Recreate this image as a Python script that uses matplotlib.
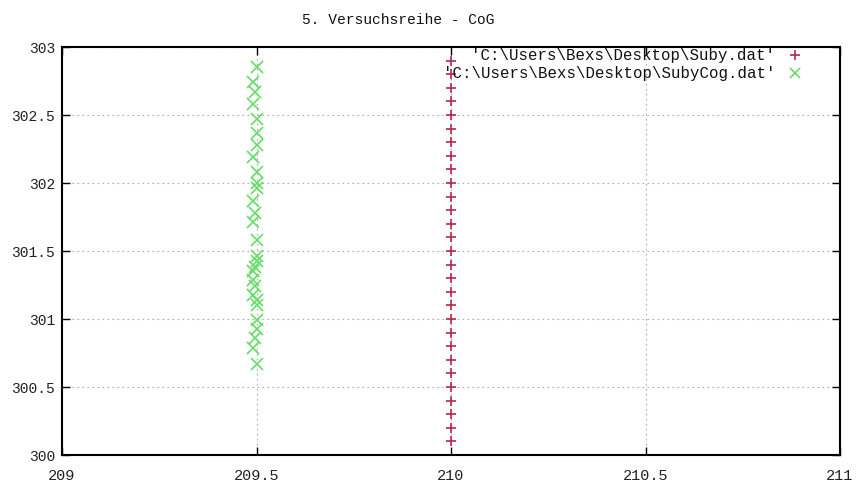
"""
5. Versuchsreihe - CoG : Suby vs SubyCog
"""

import matplotlib as mpl
mpl.use("Agg")
import matplotlib.pyplot as plt

# raw points (x, y)
suby_x = [210.0] * 29
suby_y = [300.1, 300.2, 300.3, 300.4, 300.5, 300.6, 300.7, 300.8, 300.9, 301.0,
          301.1, 301.2, 301.3, 301.4, 301.5, 301.6, 301.7, 301.8, 301.9, 302.0,
          302.1, 302.2, 302.3, 302.4, 302.5, 302.6, 302.7, 302.8, 302.9]

cog_x = [209.50, 209.49, 209.495, 209.49, 209.50, 209.50, 209.50, 209.49, 209.50, 209.50,
         209.50, 209.49, 209.495, 209.49, 209.50, 209.50, 209.50, 209.495, 209.49, 209.49,
         209.495, 209.49, 209.50, 209.50, 209.50, 209.50, 209.495, 209.49, 209.50]
cog_y = [302.85, 302.74, 302.67, 302.58, 302.47, 302.37, 302.28, 302.19, 302.08, 302.00,
         301.96, 301.87, 301.78, 301.71, 301.58, 301.46, 301.43, 301.38, 301.35, 301.29,
         301.24, 301.18, 301.14, 301.10, 300.99, 300.93, 300.86, 300.79, 300.67]

labels = ["'C:\\Users\\Bexs\\Desktop\\Suby.dat'", "'C:\\Users\\Bexs\\Desktop\\SubyCog.dat'"]
title = "5. Versuchsreihe - CoG"

xticks = [209, 209.5, 210, 210.5, 211]
xtick_labels = ["209", "209.5", "210", "210.5", "211"]
yticks = [300, 300.5, 301, 301.5, 302, 302.5, 303]
ytick_labels = ["300", "300.5", "301", "301.5", "302", "302.5", "303"]

red = "#b8284a"
green = "#66dd66"
mono = ["Liberation Mono", "DejaVu Sans Mono"]

fig = plt.figure(figsize=(8.58, 4.90), dpi=100)
ax = fig.add_axes([62/858, 1-455/490, 778/858, 408/490])

ax.plot(suby_x, suby_y, "+", color=red, markersize=7, markeredgewidth=1.2, clip_on=False)
ax.plot(cog_x, cog_y, "x", color=green, markersize=8, markeredgewidth=1.2, clip_on=False)

ax.set_xlim(209, 211)
ax.set_ylim(300, 303)
ax.set_xticks(xticks)
ax.set_xticklabels(xtick_labels, family=mono, fontsize=11, color="#222222")
ax.set_yticks(yticks)
ax.set_yticklabels(ytick_labels, family=mono, fontsize=10.5, color="#222222")
ax.tick_params(direction="in", length=6, width=1, top=True, right=True)
ax.tick_params(axis="x", pad=10)
ax.tick_params(axis="y", pad=5)
for s in ax.spines.values():
    s.set_linewidth(1.5)
ax.grid(True, linestyle=(0, (1.5, 3)), color="#aaaaaa", linewidth=0.8)
ax.set_axisbelow(True)

# gnuplot-style key: text right aligned, sample after it
key_y = [0.980, 0.936]
for lab, ky, mk, col in zip(labels, key_y, ["+", "x"], [red, green]):
    ax.text(0.917, ky, lab, transform=ax.transAxes, ha="right", va="center",
            family=mono, fontsize=11.3, color="#111111")
    ax.plot([0.942], [ky], mk, color=col, markersize=7, markeredgewidth=1.2,
            transform=ax.transAxes, clip_on=False)

fig.text(398/858, 1-20/490, title, ha="center", va="center", family=mono,
         fontsize=10.5, color="#111111")

fig.savefig("out.png", dpi=100)
